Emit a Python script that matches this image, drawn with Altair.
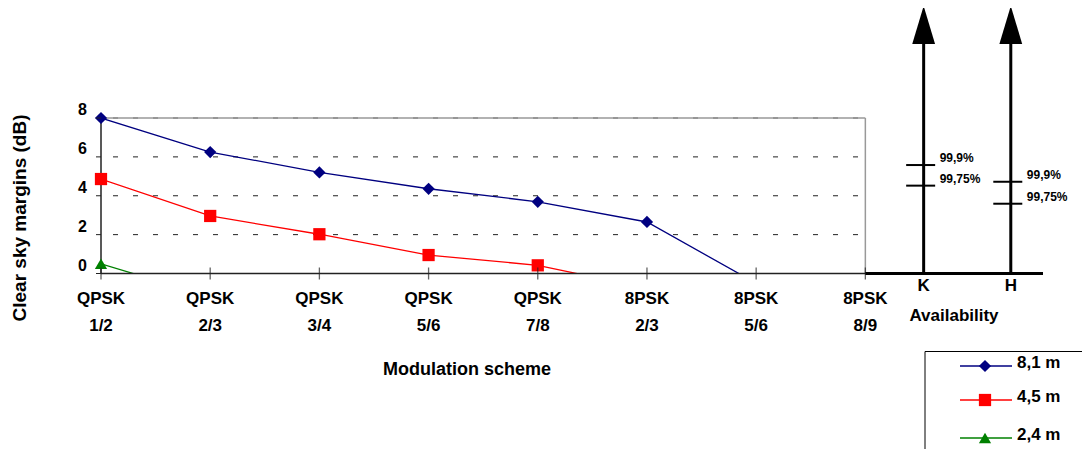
import altair as alt
import pandas as pd

# ---------------- data ----------------
modulations = ["QPSK", "QPSK", "QPSK", "QPSK", "QPSK", "8PSK", "8PSK", "8PSK"]
code_rates = ["1/2", "2/3", "3/4", "5/6", "7/8", "2/3", "5/6", "8/9"]
series_names = ["8,1 m", "4,5 m", "2,4 m"]
margin_81 = [8.0, 6.25, 5.2, 4.36, 3.69, 2.65, -0.5]
margin_45 = [4.86, 2.96, 2.02, 0.95, 0.42, -0.76]
margin_24 = [0.5, -1.2]
bands = ["K", "H"]
avail_levels = ["99,9%", "99,75%"]
avail_K = [5.58, 4.52]
avail_H = [4.72, 3.59]
y_ticks = [0, 2, 4, 6, 8]
grid_levels = [2, 4, 6, 8]
x_title = "Modulation scheme"
y_title = "Clear sky margins (dB)"
avail_title_text = "Availability"

# ---------------- layout / style ----------------
FONT = "Liberation Sans"
colors = ["#000080", "#FF0000", "#008000"]
shapes = ["diamond", "square", "triangle-up"]
line_opacity = [1, 1, 0.4]
n_cat = len(code_rates)
x_max = 8.627
band_pos = [7.534, 8.332]
legend_rows_y = [248, 282, 320]
W, H = 942, 155.5

rows = []
for name, vals in zip(series_names, [margin_81, margin_45, margin_24]):
    for i, v in enumerate(vals):
        rows.append({"idx": i, "margin": v, "series": name})
series_df = pd.DataFrame(rows)
visible_df = series_df[series_df["margin"] >= 0]

grid_df = pd.DataFrame({"level": grid_levels, "x0": 0, "x1": n_cat - 1})
cat_df = pd.DataFrame({"idx": list(range(n_cat)), "zero": 0,
                       "mod": modulations, "rate": code_rates})
ytick_df = pd.DataFrame({"v": y_ticks, "label": [str(v) for v in y_ticks]})
band_df = pd.DataFrame({"band": bands, "pos": band_pos, "zero": 0})
avail_rows = []
for b, p, vals in zip(bands, band_pos, [avail_K, avail_H]):
    for lev, v in zip(avail_levels, vals):
        avail_rows.append({"band": b, "pos": p, "level": lev, "margin": v})
avail_df = pd.DataFrame(avail_rows)
frame_df = pd.DataFrame({"x0": [0], "x1": [n_cat - 1], "y0": [0], "y1": [8]})
base_df = pd.DataFrame({"x0": [n_cat - 1], "x1": [x_max], "y": [0]})
legend_df = pd.DataFrame({"series": series_names})
title_df = pd.DataFrame({"t": [x_title, y_title, avail_title_text]})

xscale = alt.Scale(domain=[0, x_max], nice=False, zero=False)
yscale = alt.Scale(domain=[0, 8], nice=False, zero=False)
color_scale = alt.Scale(domain=series_names, range=colors)
shape_scale = alt.Scale(domain=series_names, range=shapes)


def X(f):
    return alt.X(f, scale=xscale, axis=None)


def Y(f):
    return alt.Y(f, scale=yscale, axis=None)


txt = dict(font=FONT, fontWeight="bold", color="black")

lines = alt.Chart(series_df).mark_line(clip=True, strokeWidth=1.3).encode(
    x=X("idx:Q"), y=Y("margin:Q"),
    color=alt.Color("series:N", scale=color_scale, legend=None),
    opacity=alt.Opacity("series:N", scale=alt.Scale(domain=series_names, range=line_opacity), legend=None),
    detail="series:N",
)
grid = alt.Chart(grid_df).mark_rule(
    color="#222", strokeWidth=1, strokeDash=[5, 15], strokeDashOffset=8
).encode(x=X("x0:Q"), x2="x1:Q", y=Y("level:Q"))
frame_top = alt.Chart(frame_df).mark_rule(color="#999", strokeWidth=1.5).encode(
    x=X("x0:Q"), x2="x1:Q", y=Y("y1:Q"))
frame_right = alt.Chart(frame_df).mark_rule(color="#999", strokeWidth=1.5).encode(
    x=X("x1:Q"), y=Y("y0:Q"), y2="y1:Q")
y_domain = alt.Chart(frame_df).mark_rule(color="#222", strokeWidth=1.5).encode(
    x=X("x0:Q"), y=Y("y0:Q"), y2="y1:Q")
x_domain = alt.Chart(frame_df).mark_rule(color="#222", strokeWidth=1.5).encode(
    x=X("x0:Q"), x2="x1:Q", y=Y("y0:Q"))
points = alt.Chart(visible_df).mark_point(filled=True, size=150, opacity=1).encode(
    x=X("idx:Q"), y=Y("margin:Q"),
    color=alt.Color("series:N", scale=color_scale, legend=None),
    shape=alt.Shape("series:N", scale=shape_scale, legend=None),
)
xticks = alt.Chart(cat_df).mark_tick(orient="vertical", size=12, thickness=1.3, color="#222").encode(
    x=X("idx:Q"), y=Y("zero:Q"))
xlab1 = alt.Chart(cat_df).mark_text(fontSize=17, baseline="middle", **txt).encode(
    x=X("idx:Q"), y=alt.value(181), text="mod:N")
xlab2 = alt.Chart(cat_df).mark_text(fontSize=17, baseline="middle", **txt).encode(
    x=X("idx:Q"), y=alt.value(208), text="rate:N")
yticks = alt.Chart(ytick_df).mark_rule(color="#222", strokeWidth=1).encode(
    x=alt.value(-5), x2=alt.value(0), y=Y("v:Q"))
ylabs = alt.Chart(ytick_df).mark_text(fontSize=16, align="right", baseline="middle", dy=-8, **txt).encode(
    x=alt.value(-14), y=Y("v:Q"), text="label:N")
xtitle = alt.Chart(title_df.iloc[[0]]).mark_text(fontSize=18, align="center", baseline="middle", **txt).encode(
    x=alt.value(366), y=alt.value(252), text="t:N")
ytitle = alt.Chart(title_df.iloc[[1]]).mark_text(fontSize=19, align="center", baseline="middle", angle=270, **txt).encode(
    x=alt.value(-81), y=alt.value(100), text="t:N")
baseline = alt.Chart(base_df).mark_rule(color="black", strokeWidth=3).encode(
    x=X("x0:Q"), x2="x1:Q", y=Y("y:Q"))
shafts = alt.Chart(band_df).mark_rule(color="black", strokeWidth=3).encode(
    x=X("pos:Q"), y=Y("zero:Q"), y2=alt.value(-80))
heads = alt.Chart(band_df).mark_point(
    shape="M0,-1L0.6,1L-0.6,1Z", size=1444, filled=True, color="black", opacity=1, strokeWidth=0
).encode(x=X("pos:Q"), y=alt.value(-93))
band_labels = alt.Chart(band_df).mark_text(fontSize=17, baseline="middle", **txt).encode(
    x=X("pos:Q"), y=alt.value(168), text="band:N")
avail_title = alt.Chart(title_df.iloc[[2]]).mark_text(fontSize=17, baseline="middle", **txt).encode(
    x=alt.value(853), y=alt.value(198), text="t:N")
avail_ticks = alt.Chart(avail_df).mark_tick(
    orient="horizontal", size=29, thickness=2, color="black", xOffset=-3, opacity=1
).encode(x=X("pos:Q"), y=Y("margin:Q"))
avail_text = alt.Chart(avail_df).mark_text(
    fontSize=12, align="left", baseline="middle", dx=16, dy=-7, **txt
).encode(x=X("pos:Q"), y=Y("margin:Q"), text="level:N")

# ---- manual legend (one small group per series) ----
legend_layers = [
    alt.Chart(legend_df.head(1)).mark_rule(color="black", strokeWidth=1).encode(
        x=alt.value(824), x2=alt.value(1000), y=alt.value(233.5)),
    alt.Chart(legend_df.head(1)).mark_rule(color="black", strokeWidth=1).encode(
        x=alt.value(824), y=alt.value(233.5), y2=alt.value(400)),
]
for name, ly in zip(series_names, legend_rows_y):
    sub = legend_df[legend_df["series"] == name]
    legend_layers.append(alt.Chart(sub).mark_rule(strokeWidth=1.3).encode(
        x=alt.value(859), x2=alt.value(911), y=alt.value(ly),
        color=alt.Color("series:N", scale=color_scale, legend=None)))
    legend_layers.append(alt.Chart(sub).mark_point(filled=True, size=150, opacity=1).encode(
        x=alt.value(884), y=alt.value(ly),
        color=alt.Color("series:N", scale=color_scale, legend=None),
        shape=alt.Shape("series:N", scale=shape_scale, legend=None)))
    legend_layers.append(alt.Chart(sub).mark_text(
        fontSize=17, align="left", baseline="middle", dy=-3, **txt
    ).encode(x=alt.value(916), y=alt.value(ly), text="series:N"))

chart = alt.layer(
    grid, frame_top, frame_right, lines, y_domain, x_domain, points, xticks,
    xlab1, xlab2, yticks, ylabs, xtitle, ytitle, baseline,
    shafts, heads, band_labels, avail_title, avail_ticks, avail_text,
    *legend_layers,
).properties(
    width=W, height=H,
    autosize=alt.AutoSizeParams(type="none"),
    padding={"left": 93, "top": 110, "right": 39, "bottom": 175},
    background="white",
).configure_view(strokeWidth=0)

chart.save("out.html", embed_options={"renderer": "svg", "actions": False})
